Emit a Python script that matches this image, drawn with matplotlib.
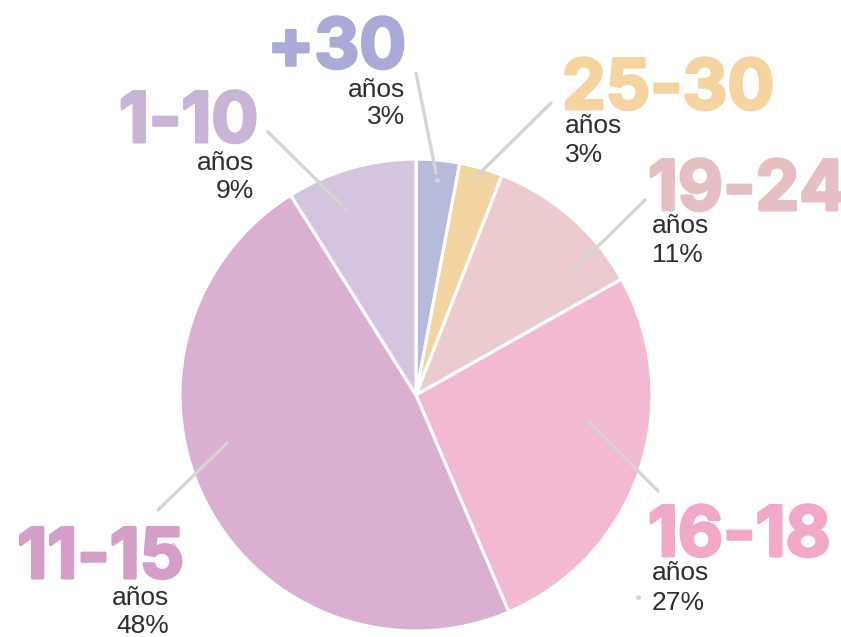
import matplotlib
matplotlib.use("Agg")
import matplotlib.pyplot as plt
import matplotlib.patheffects as pe

# datos
grupos = ["+30", "25-30", "19-24", "16-18", "11-15", "1-10"]
porcentajes = [3, 3, 11, 27, 48, 9]
colores_sector = ["#b6badb", "#f3d4a0", "#ebcbce", "#f3b9d3", "#dbafd1", "#d5c4df"]
colores_texto = ["#a9abd6", "#f5d49f", "#e6bfc3", "#f2a9c8", "#d59ec6", "#c9b4d7"]

# centro y radio del pastel en pixeles
CX, CY, R = 416, 395, 236
W, H = 841, 637


def px(x, y):
    return ((x - CX) / R, (CY - y) / R)


# posiciones de etiquetas (pixeles): x, y de la linea base del titulo, alineacion
etiquetas = {
    "+30": (406, 68, "right"),
    "25-30": (562, 109, "left"),
    "19-24": (648, 210, "left"),
    "16-18": (648, 556, "left"),
    "11-15": (184, 578, "right"),
    "1-10": (258, 142, "right"),
}
sub_pos = {
    "+30": (405, 97, 124, "right"),
    "25-30": (565, 133, 162, "left"),
    "19-24": (652, 233, 262, "left"),
    "16-18": (652, 580, 610, "left"),
    "11-15": (169, 605, 633, "right"),
    "1-10": (254, 170, 198, "right"),
}
# lineas guia (exterior, interior) en pixeles
guias = {
    "+30": ((416, 73), (436, 173)),
    "25-30": ((551, 103), (479, 174)),
    "19-24": ((645, 200), (573, 271)),
    "16-18": ((590, 423), (658, 491)),
    "11-15": ((227, 443), (158, 510)),
    "1-10": ((268, 132), (343, 206)),
}
puntos = [(437, 180), (474, 180), (568, 277), (345, 209), (638, 597), (173, 545)]

fig = plt.figure(figsize=(W / 100, H / 100), dpi=100)
ax = fig.add_axes([0, 0, 1, 1])

ax.pie(porcentajes, colors=colores_sector, startangle=90, counterclock=False,
       radius=1, center=(0, 0),
       wedgeprops=dict(edgecolor="white", linewidth=2.3))

ax.set_xlim((0 - CX) / R, (W - CX) / R)
ax.set_ylim((CY - H) / R, CY / R)
ax.set_aspect("equal")
ax.axis("off")

for g in grupos:
    (x0, y0), (x1, y1) = guias[g]
    a, b = px(x0, y0), px(x1, y1)
    ax.plot([a[0], b[0]], [a[1], b[1]], color="#d4d4d4", lw=2.4,
            solid_capstyle="round", zorder=5)

for (x, y) in puntos:
    p = px(x, y)
    ax.plot(p[0], p[1], "o", color="#d4d4d4", ms=3.5, mec="none", zorder=5)

for g, c in zip(grupos, colores_texto):
    x, y, ha = etiquetas[g]
    p = px(x, y)
    ax.text(p[0], p[1], g, color=c, fontsize=50, fontweight="bold",
            family="Inter", ha=ha, va="baseline", zorder=6,
            path_effects=[pe.withStroke(linewidth=2.2, foreground=c)])

for g, pct in zip(grupos, porcentajes):
    x, y1, y2, ha = sub_pos[g]
    p1 = px(x, y1)
    p2 = px(x, y2)
    ax.text(p1[0], p1[1], "años", color="#2e2e2e", fontsize=19,
            family="Liberation Sans", ha=ha, va="baseline", zorder=6)
    ax.text(p2[0], p2[1], f"{pct}%", color="#2e2e2e", fontsize=19,
            family="Liberation Sans", ha=ha, va="baseline", zorder=6)

fig.savefig("out.png", dpi=100)
